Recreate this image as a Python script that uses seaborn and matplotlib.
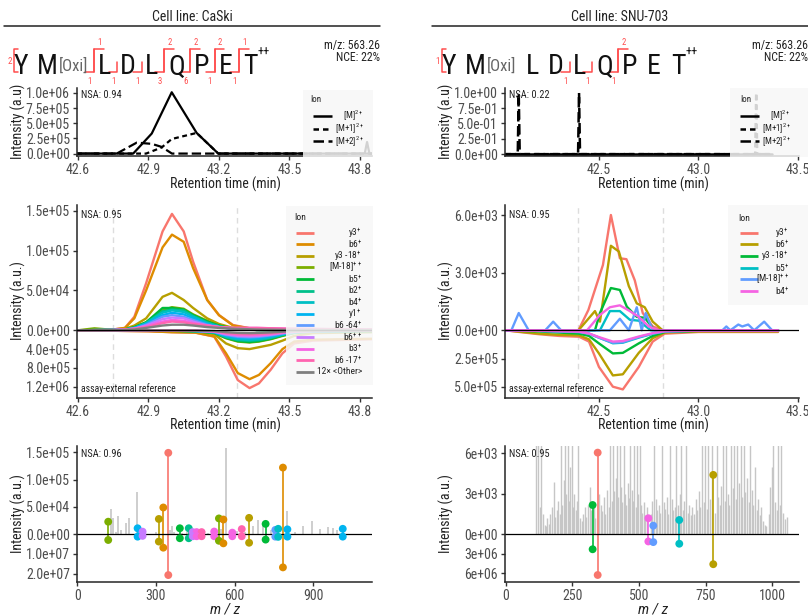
import matplotlib
matplotlib.use("Agg")
import matplotlib.pyplot as plt
import numpy as np
import pandas as pd
import seaborn as sns
from matplotlib import font_manager
from matplotlib.lines import Line2D
from matplotlib.patches import Rectangle

# ============================ DATA ============================
col_titles = ["Cell line: CaSki", "Cell line: SNU-703"]
precursor_text = ["m/z: 563.26", "NCE: 22%"]
residues = ["Y", "M", "L", "D", "L", "Q", "P", "E", "T"]
nsa_L = ["NSA: 0.94", "NSA: 0.95", "NSA: 0.96"]
nsa_R = ["NSA: 0.22", "NSA: 0.95", "NSA: 0.95"]

start_count = ["2", "1"]
sites_L = [(1, "1", "1"), (2, None, "1"), (3, None, "1"), (4, "2", "3"),
           (5, "2", "6"), (6, "2", "1"), (7, "1", "1")]
sites_R = [(3, None, "1"), (4, None, "1"), (5, "2", "1")]

# ---- precursor XIC, CaSki (intensity in 1e6) ----
xicL_M_rt = [42.596, 42.835, 42.914, 42.999, 43.105, 43.197, 43.82, 43.83, 43.84, 43.851]
xicL_M = [0, 0, 0.33, 1.01, 0.34, 0, 0, 0.19, 0, 0]
xicL_M1_rt = [42.596, 42.89, 42.956, 42.999, 43.105, 43.197, 43.851]
xicL_M1 = [0, 0, 0.10, 0.24, 0.34, 0, 0]
xicL_M2_rt = [42.596, 42.765, 42.85, 42.914, 42.956, 43.0, 43.851]
xicL_M2 = [0, 0, 0.18, 0.16, 0.11, 0, 0]
# ---- precursor XIC, SNU-703 (normalised) ----
xicR_M_rt = [42.03, 43.37]
xicR_M = [0, 0]
xicR_M1_rt = [42.03, 43.285, 43.29, 43.295, 43.37]
xicR_M1 = [0, 0, 1.0, 0, 0]
xicR_M2_rt = [42.03, 42.092, 42.097, 42.102, 42.395, 42.40, 42.405, 43.37]
xicR_M2 = [0, 0, 1.0, 0, 0, 1.0, 0, 0]

# ---- fragment XICs, CaSki (obs in 1e3, reference in 1e3) ----
ions_L = ["y3+", "b6+", "y3-18+", "M-18++", "b5+", "b2+", "b4+", "y1+",
          "b6-64+", "b6++", "b3+", "b6-17+", "other"]
labels_L = ["y3$^{+}$", "b6$^{+}$", "y3 -18$^{+}$", "[M-18]$^{++}$", "b5$^{+}$",
            "b2$^{+}$", "b4$^{+}$", "y1$^{+}$", "b6 -64$^{+}$", "b6$^{++}$",
            "b3$^{+}$", "b6 -17$^{+}$", "12× <Other>"]
rt_obs_L = [42.60, 42.67, 42.75, 42.80, 42.84, 42.89, 42.96, 43.00, 43.05,
            43.09, 43.15, 43.20, 43.26, 43.36, 43.50, 43.85]
obsL_y3 = [0, 0.5, 1, 3, 17, 59, 124, 146, 124, 86, 38, 19, 6.6, 1, 0.5, 0.5]
obsL_b6 = [0, 0.5, 1, 3, 15, 50, 104, 120, 111, 78, 38, 19, 6, 1, 0.5, 0.5]
obsL_y3_18 = [0, 0.3, 0.5, 2, 6, 15, 42, 47, 38, 28, 15, 8, 3, 0.5, 0.3, 0.3]
obsL_M_18 = [0, 2.5, 0.5, 1, 4, 10, 25, 29, 27, 20, 12, 6, 2, 0.5, 0.3, 0.3]
obsL_b5 = [0, 0.3, 0.5, 1, 4, 10, 28, 28, 26, 19, 11, 6, 2, 0.5, 0.3, 0.3]
obsL_b2 = [0, 0.3, 0.5, 1, 3, 9, 24, 26, 25, 18, 10, 5, 2, 0.5, 0.3, 0.3]
obsL_b4 = [0, 0.2, 0.5, 1, 3, 9, 22, 25, 23, 17, 9, 5, 2, 0.5, 0.3, 0.3]
obsL_y1 = [0, 0.2, 0.4, 1, 3, 8, 19, 22, 20, 15, 8, 4, 2, 0.5, 0.3, 0.3]
obsL_b6_64 = [0, 0.2, 0.4, 1, 2, 7, 17, 19, 17, 13, 7, 4, 2, 1, 0.5, 0.5]
obsL_b6pp = [0, 0.2, 0.3, 1, 2, 6, 14, 16, 15, 11, 6, 4, 2, 2, 1, 0.5]
obsL_b3 = [0, 0.2, 0.3, 1, 2, 5, 11, 13, 12, 9, 6, 4, 3, 3, 2, 1]
obsL_b6_17 = [0, 0.2, 0.3, 1, 2, 4, 9, 11, 10, 8, 6, 4, 3, 3, 2, 1]
obsL_other = [0, 0.1, 0.2, 0.5, 1, 3, 6, 7, 7, 6, 4, 3, 2, 1, 0.5, 0.3]

rt_ref_L = [42.60, 42.90, 43.00, 43.10, 43.18, 43.23, 43.28, 43.33, 43.37,
            43.42, 43.47, 43.52, 43.60, 43.85]
refL_y3 = [0, 20, 40, 50, 136, 560, 1060, 1230, 1130, 840, 490, 280, 220, 190]
refL_b6 = [0, 20, 40, 50, 130, 490, 910, 1040, 950, 700, 400, 240, 200, 180]
refL_y3_18 = [0, 10, 20, 30, 80, 280, 380, 400, 360, 310, 220, 120, 60, 40]
refL_M_18 = [0, 5, 10, 20, 60, 170, 240, 260, 240, 190, 120, 60, 30, 20]
refL_b5 = [0, 5, 10, 20, 55, 160, 230, 250, 230, 180, 110, 55, 25, 15]
refL_b2 = [0, 5, 10, 18, 50, 150, 210, 225, 210, 165, 100, 50, 25, 15]
refL_b4 = [0, 5, 8, 16, 45, 135, 190, 205, 190, 150, 90, 45, 20, 12]
refL_y1 = [0, 4, 8, 14, 40, 115, 165, 175, 165, 130, 80, 40, 20, 10]
refL_b6_64 = [0, 4, 7, 12, 35, 100, 140, 150, 140, 110, 70, 35, 15, 10]
refL_b6pp = [0, 3, 6, 10, 30, 85, 120, 130, 120, 95, 60, 30, 15, 8]
refL_b3 = [0, 3, 5, 8, 25, 70, 100, 105, 100, 80, 50, 25, 12, 8]
refL_b6_17 = [0, 2, 4, 7, 20, 55, 80, 85, 80, 65, 40, 20, 10, 6]
refL_other = [0, 2, 3, 5, 15, 40, 55, 60, 55, 45, 30, 15, 8, 5]

# ---- fragment XICs, SNU-703 (obs in 1e3, reference in 1e5) ----
ions_R = ["y3+", "b6+", "y3-18+", "b5+", "M-18++", "b4+"]
labels_R = ["y3$^{+}$", "b6$^{+}$", "y3 -18$^{+}$", "b5$^{+}$", "[M-18]$^{++}$", "b4$^{+}$"]
obsR_y3_rt = [42.03, 42.397, 42.447, 42.52, 42.56, 42.605, 42.638, 42.68, 42.72, 42.77, 42.82, 43.40]
obsR_y3 = [0, 0, 1.06, 3.4, 6.0, 3.75, 3.7, 2.6, 0.9, 0.2, 0, 0]
obsR_b6_rt = [42.03, 42.397, 42.48, 42.505, 42.56, 42.60, 42.65, 42.69, 42.73, 42.77, 42.82, 43.40]
obsR_b6 = [0, 0, 1.0, 0.45, 4.4, 4.1, 2.3, 1.4, 1.2, 0.45, 0, 0]
obsR_y3_18_rt = [42.03, 42.48, 42.505, 42.56, 42.605, 42.64, 42.69, 42.73, 42.78, 43.40]
obsR_y3_18 = [0, 0, 0.9, 2.2, 2.1, 1.23, 0.7, 0.65, 0, 0]
obsR_b5_rt = [42.03, 42.505, 42.555, 42.605, 42.655, 42.70, 42.76, 43.40]
obsR_b5 = [0, 0, 1.0, 1.0, 0.55, 0.5, 0, 0]
obsR_M_18_rt = [42.03, 42.06, 42.097, 42.147, 42.23, 42.27, 42.31, 42.555, 42.605, 42.65,
                42.69, 42.715, 42.735, 42.77, 43.12, 43.14, 43.16, 43.20, 43.22, 43.25,
                43.28, 43.33, 43.37, 43.40]
obsR_M_18 = [0, 0, 0.9, 0, 0, 0.45, 0, 0, 0.6, 0, 1.2, 0, 0.9, 0, 0, 0.2, 0, 0.3, 0.2,
             0.3, 0, 0.45, 0, 0]
obsR_b4_rt = [42.03, 42.44, 42.505, 42.555, 42.605, 42.655, 42.70, 42.75, 42.80, 43.40]
obsR_b4 = [0, 0, 0.8, 1.2, 1.3, 1.0, 0.7, 0.2, 0, 0]

rt_ref_R = [42.03, 42.10, 42.20, 42.30, 42.40, 42.45, 42.50, 42.57, 42.62, 42.70,
            42.77, 42.83, 43.00, 43.40]
refR_y3 = [0, 0.15, 0.35, 0.5, 0.57, 1.0, 3.25, 5.0, 5.24, 3.25, 1.0, 0.3, 0.15, 0.15]
refR_b6 = [0, 0.12, 0.3, 0.4, 0.45, 0.8, 2.05, 4.0, 3.9, 2.0, 0.7, 0.2, 0.1, 0.1]
refR_y3_18 = [0, 0.05, 0.1, 0.2, 0.3, 0.5, 1.16, 2.05, 2.0, 1.16, 0.5, 0.15, 0.05, 0.05]
refR_b5 = [0, 0.03, 0.05, 0.1, 0.15, 0.3, 0.65, 1.15, 1.1, 0.65, 0.3, 0.1, 0.03, 0.03]
refR_M_18 = [0, 0.03, 0.05, 0.1, 0.15, 0.3, 0.65, 1.1, 1.05, 0.6, 0.3, 0.1, 0.03, 0.03]
refR_b4 = [0, 0.02, 0.04, 0.08, 0.12, 0.28, 0.6, 1.0, 0.95, 0.55, 0.25, 0.08, 0.02, 0.02]

peak_bounds_L = [42.75, 43.275]
peak_bounds_R = [42.397, 42.82]

# ---- spectra: matched fragments (m/z, observed, reference, ion) ----
specL_mz = [118, 230, 249, 311, 328, 347, 391, 425, 440, 455, 474, 522, 540, 557,
            591, 627, 655, 718, 755, 766, 784, 801, 1012]
specL_obs = [2.3e4, 1.1e4, 4.8e3, 2.8e4, 4.9e4, 1.49e5, 1.1e4, 1.1e4, 4e3, 4e3, 4e3, 5e3,
             2.9e4, 2.7e4, 3e3, 9.5e3, 3.0e4, 1.9e4, 8e3, 1.0e4, 1.22e5, 9e3, 1.0e4]
specL_ref = [2.9e6, 1.2e6, 0.8e6, 3.7e6, 6.8e6, 2.07e7, 2.0e6, 2.0e6, 1.0e6, 1.0e6, 1.0e6,
             1.0e6, 3.3e6, 4.6e6, 1.0e6, 1.0e6, 4.3e6, 2.7e6, 1.2e6, 1.3e6, 1.68e7, 1.2e6, 1.2e6]
specL_ion = ["M-18++", "y1+", "b6++", "y3-18+", "b6+", "y3+", "b5+", "b2+", "b6++", "b3+",
             "b6-17+", "b3+", "M-18++", "b6+", "b3+", "b6-17+", "y3-18+", "b5+", "b6-64+",
             "b4+", "b6+", "y1+", "y1+"]
greyL_mz = [128, 137, 147, 156, 165, 184, 198, 226, 240, 260, 300, 352, 360, 370, 400, 420,
            460, 480, 500, 530, 548, 567, 590, 610, 640, 671, 690, 709, 740, 801, 830, 862,
            894, 925, 957, 976, 990]
greyL_int = [4.6e4, 3.0e4, 5e3, 3.3e4, 8e3, 2e4, 3e4, 7.8e4, 5e3, 6e3, 4e3, 8e3, 1.5e4, 5e3,
             3e3, 4e3, 3e3, 4e3, 3e3, 6e3, 1e4, 1.58e5, 8e3, 6e3, 5e3, 1.5e4, 2.7e4, 1.8e4,
             8e3, 4.3e4, 5e3, 1.5e4, 2.5e4, 9e3, 1.3e4, 1.2e4, 8e3]

specR_mz = [326, 345, 535, 553.5, 651, 778.5]
specR_obs = [2.17e3, 6.05e3, 1.19e3, 0.64e3, 1.06e3, 4.4e3]
specR_ref = [2.3e6, 6.26e6, 1.1e6, 1.2e6, 1.45e6, 4.6e6]
specR_ion = ["y3-18+", "y3+", "b4+", "M-18++", "b5+", "b6+"]
# unmatched peaks of the observed SNU-703 spectrum (intensity in 1e3; 7 = off scale)
greyR_mz = [115, 121, 127, 133, 139, 146, 150, 156, 162, 168, 174, 180, 186, 192, 198, 204,
            208, 213, 218, 223, 228, 233, 238, 243, 248, 253, 258, 263, 268, 273, 279, 285,
            291, 297, 303, 309, 315, 321, 330, 336, 350, 356, 362, 368, 374, 380, 386, 392,
            397, 402, 407, 412, 417, 422, 427, 432, 437, 442, 447, 452, 457, 462, 467, 472,
            477, 482, 487, 492, 497, 502, 507, 512, 518, 524, 530, 545, 550, 558, 563, 568,
            574, 580, 586, 592, 598, 604, 610, 616, 622, 628, 634, 640, 646, 652, 658, 664,
            670, 676, 682, 688, 694, 700, 706, 712, 718, 724, 730, 736, 742, 748, 754, 760,
            766, 772, 785, 791, 797, 803, 809, 815, 821, 827, 833, 839, 845, 851, 857, 863,
            869, 875, 881, 887, 893, 899, 905, 911, 917, 923, 929, 935, 941, 947, 953, 959,
            965, 971, 978, 986, 992, 998, 1004, 1010, 1016, 1022, 1028, 1034, 1040, 1046, 1055]
greyR_int = [7, 7, 2, 7, 1.5, 0.7, 0.6, 1.2, 0.8, 1.5, 2.0, 3.9, 1.3, 1.8, 2.5, 1.5,
             7, 2.2, 4, 7, 3, 7, 2.5, 5, 7, 2, 3, 1.8, 2.5, 7, 1.2, 1.0,
             1.5, 2.0, 1.3, 2.2, 3.5, 1.8, 2.4, 1.2, 3.0, 2.2, 1.7, 2.8, 1.5, 3.3, 2.0, 7,
             2.5, 7, 3.2, 4.2, 7, 2.8, 7, 3.5, 2.4, 7, 3.0, 2.2, 3.8, 2.7, 7, 3.3,
             2.5, 7, 2.0, 7, 3.0, 7, 2.2, 1.6, 2.4, 1.4, 2.0, 1.5, 2.5, 7, 2.6, 1.8,
             2.2, 1.6, 7, 2.4, 1.9, 2.8, 1.5, 7, 2.6, 1.8, 2.0, 7, 2.2, 3.0, 7, 1.8,
             2.5, 7, 1.6, 2.2, 1.4, 2.0, 1.5, 2.6, 1.8, 3.2, 2.0, 7, 2.4, 7, 1.9, 7,
             2.6, 7, 1.6, 7, 2.8, 2.2, 3.6, 7, 2.5, 7, 3.0, 2.2, 7, 3.4, 7, 2.6,
             7, 3.8, 7, 2.8, 7, 3.1, 4.2, 2.4, 7, 3.3, 2.2, 5.0, 1.8, 2.6, 1.4, 2.0,
             1.0, 0.7, 0.6, 1.5, 3.5, 5.0, 7, 2.4, 1.8, 7, 2.2, 7, 1.6, 1.1, 1.3]

tick_top_L = ["0.0e+00", "2.5e+05", "5.0e+05", "7.5e+05", "1.0e+06"]
tick_top_R = ["0.0e+00", "2.5e-01", "5.0e-01", "7.5e-01", "1.0e+00"]
tick_mid_L_up = ["0.0e+00", "5.0e+04", "1.0e+05", "1.5e+05"]
tick_mid_L_dn = ["4.0e+05", "8.0e+05", "1.2e+06"]
tick_mid_R_up = ["0.0e+00", "3.0e+03", "6.0e+03"]
tick_mid_R_dn = ["2.5e+05", "5.0e+05"]
tick_bot_L_up = ["0.0e+00", "5.0e+04", "1.0e+05", "1.5e+05"]
tick_bot_L_dn = ["1.0e+07", "2.0e+07"]
tick_bot_R_up = ["0e+00", "3e+03", "6e+03"]
tick_bot_R_dn = ["3e+06", "6e+06"]

# ============================ STYLE ============================
sns.set_style("ticks")
ttf = font_manager.fontManager.ttflist
narrow = [f.name for f in ttf if ("Condensed" in f.name or "Narrow" in f.name)]
dv_cond = [f for f in ttf if f.name == "DejaVu Sans" and f.stretch == "condensed"]
STRETCH = "normal"
if any("Roboto Condensed" == n for n in narrow):
    NARROW = "Roboto Condensed"
elif narrow:
    NARROW = narrow[0]
elif dv_cond:
    NARROW = "DejaVu Sans"
    STRETCH = "condensed"
else:
    NARROW = "Roboto"
plt.rcParams["font.family"] = [NARROW, "DejaVu Sans"]
plt.rcParams["font.stretch"] = STRETCH
plt.rcParams["mathtext.default"] = "regular"
plt.rcParams["axes.linewidth"] = 1.1
SANS = NARROW

hue = ["#F8766D", "#DE8C00", "#B79F00", "#7CAE00", "#00BA38", "#00C08B", "#00BFC4",
       "#00B4F0", "#619CFF", "#C77CFF", "#F564E3", "#FF64B0"]
pal_L = dict(zip(ions_L, hue + ["#7f7f7f"]))
pal_R = dict(zip(ions_R, ["#F8766D", "#B79F00", "#00BA38", "#00BFC4", "#619CFF", "#F564E3"]))
RED = "#ff4d4d"
TICKC = "#4d4d4d"

W, H = 808, 616
fig = plt.figure(figsize=(W / 100, H / 100), dpi=100)
OFF = 428


def fx(x):
    return x / W


def fy(y):
    return 1 - y / H


def add_ax(x0, x1, y0, y1):
    return fig.add_axes([fx(x0), fy(y1), (x1 - x0) / W, (y1 - y0) / H])


def style_ax(ax):
    sns.despine(ax=ax)
    ax.tick_params(axis="both", labelsize=10, colors="#333333", labelcolor=TICKC,
                   length=3, width=1, pad=2)
    ax.set_xlabel("")
    ax.set_ylabel("")
    lg = ax.get_legend()
    if lg is not None:
        lg.remove()


def ftext(x, y, s, **kw):
    fig.text(fx(x), fy(y), s, **kw)


def fline(xs, ys, **kw):
    fig.add_artist(Line2D([fx(v) for v in xs], [fy(v) for v in ys], **kw))


def legend_box(x0, x1, y0, y1, title_xy, items, line_x, label_x, ys, lw, fs=7):
    fig.add_artist(Rectangle((fx(x0), fy(y1)), (x1 - x0) / W, (y1 - y0) / H,
                             transform=fig.transFigure, facecolor="#f7f7f7",
                             edgecolor="none", alpha=0.85, zorder=5))
    ftext(title_xy[0], title_xy[1], "Ion", fontsize=fs, ha="left", va="center",
          zorder=6, color="#222222")
    for (lab, col, ls), yy in zip(items, ys):
        fig.add_artist(Line2D([fx(line_x[0]), fx(line_x[1])], [fy(yy), fy(yy)],
                              color=col, lw=lw, linestyle=ls, zorder=6,
                              solid_capstyle="butt"))
        ftext(label_x, yy, lab, fontsize=fs, ha="right", va="center", zorder=6,
              color="#222222")


def nsa(ax, s):
    ax.text(0.012, 0.975, s, transform=ax.transAxes, ha="left", va="top",
            fontsize=7.5, color="#222222", zorder=4)


# ============================ HEADER ============================
for c in range(2):
    o = OFF * c
    ftext(192 + o, 17, col_titles[c], fontsize=10, ha="center", va="center", color="#222222")
    fline([4 + o, 380 + o], [26, 26], color="#222222", lw=1.1)
    ftext(380 + o, 45, precursor_text[0], fontsize=8.5, ha="right", va="center", color="#222222")
    ftext(380 + o, 57.5, precursor_text[1], fontsize=8.5, ha="right", va="center", color="#222222")
    letters_x = [20.7, 47.5, 105, 128.3, 151.7, 176.7, 201.7, 225.7, 250]
    for ch, xx in zip(residues, letters_x):
        ftext(xx + o, 74.5, ch, fontsize=20, ha="center", va="baseline",
              family=SANS, color="#111111")
    ftext(58.5 + o, 70.5, "[Oxi]", fontsize=12, ha="left", va="baseline", family=SANS,
          color="#666666")
    ftext(257.5 + o, 52, "++", fontsize=9, ha="left", va="center", family=SANS, color="#111111")
    fline([17.5 + o, 13.5 + o, 13.5 + o, 17.5 + o], [49, 49, 72.3, 72.3], color=RED, lw=1.1)
    ftext(9.5 + o, 61, start_count[c], fontsize=6.5, ha="center", va="center", color=RED)
    site_x = [0, 94.3, 117.5, 142, 164, 190, 214.5, 239]
    for k, top, bot in (sites_L if c == 0 else sites_R):
        xv = site_x[k] + o
        if top is not None:
            fline([xv, xv, xv + 9.5], [72.3 if bot else 61, 49, 49], color=RED, lw=1.1)
            ftext(xv + 5.5, 42.5, top, fontsize=6.3, ha="center", va="center", color=RED)
        if bot is not None:
            fline([xv - 9, xv, xv], [72.3, 72.3, 49 if top else 62], color=RED, lw=1.1)
            ftext(xv - 4.5, 81.5, bot, fontsize=6.3, ha="center", va="center", color=RED)

# ============================ PRECURSOR XIC ============================
dash_map = {"[M]": "", "[M+1]": (2.2, 1.6), "[M+2]": (4.2, 1.8)}
axA = add_ax(77, 372, 88, 156)
dfA = pd.concat([
    pd.DataFrame({"rt": xicL_M_rt, "y": np.array(xicL_M) * 1e6, "iso": "[M]"}),
    pd.DataFrame({"rt": xicL_M1_rt, "y": np.array(xicL_M1) * 1e6, "iso": "[M+1]"}),
    pd.DataFrame({"rt": xicL_M2_rt, "y": np.array(xicL_M2) * 1e6, "iso": "[M+2]"}),
])
sns.lineplot(data=dfA, x="rt", y="y", style="iso", dashes=dash_map, color="black",
             lw=1.6, estimator=None, sort=False, ax=axA)
axA.set_xlim(42.596, 43.851)
axA.set_ylim(-0.04e6, 1.08e6)
axA.set_xticks([42.6, 42.9, 43.2, 43.5, 43.8])
axA.set_xticklabels(["42.6", "42.9", "43.2", "43.5", "43.8"])
axA.set_yticks([0, 2.5e5, 5e5, 7.5e5, 1e6])
axA.set_yticklabels(tick_top_L)
style_ax(axA)
nsa(axA, nsa_L[0])

axB = add_ax(505, 799, 88, 156)
dfB = pd.concat([
    pd.DataFrame({"rt": xicR_M_rt, "y": xicR_M, "iso": "[M]"}),
    pd.DataFrame({"rt": xicR_M1_rt, "y": xicR_M1, "iso": "[M+1]"}),
    pd.DataFrame({"rt": xicR_M2_rt, "y": xicR_M2, "iso": "[M+2]"}),
])
sns.lineplot(data=dfB, x="rt", y="y", style="iso", dashes=dash_map, color="black",
             lw=1.8, estimator=None, sort=False, ax=axB)
axB.set_xlim(42.028, 43.505)
axB.set_ylim(-0.03, 1.078)
axB.set_xticks([42.5, 43.0, 43.5])
axB.set_xticklabels(["42.5", "43.0", "43.5"])
axB.set_yticks([0, 0.25, 0.5, 0.75, 1.0])
axB.set_yticklabels(tick_top_R)
style_ax(axB)
nsa(axB, nsa_R[0])

for c in range(2):
    o = OFF * c
    ftext(225 + o, 184, "Retention time (min)", fontsize=10, ha="center", va="center",
          color="#222222")
    ftext(18 + o, 121, "Intensity (a.u)", fontsize=10, ha="center", va="center",
          rotation=90, color="#222222")
    ftext(18 + o, 301, "Intensity (a.u.)", fontsize=10, ha="center", va="center",
          rotation=90, color="#222222")
    ftext(225 + o, 425, "Retention time (min)", fontsize=10, ha="center", va="center",
          color="#222222")
    ftext(18 + o, 514, "Intensity (a.u.)", fontsize=10, ha="center", va="center",
          rotation=90, color="#222222")
    ftext(225 + o, 609, "m / z", fontsize=11, ha="center", va="center", style="italic",
          color="#222222")

iso_items = [("[M]$^{2+}$", "black", "-"), ("[M+1]$^{2+}$", "black", (0, (2.2, 1.6))),
             ("[M+2]$^{2+}$", "black", (0, (4.2, 1.8)))]
legend_box(303, 373, 90, 157, (310.5, 100), iso_items, (312.5, 331.5), 364,
           [116, 128.5, 141.5], 1.8, fs=6.5)
legend_box(730, 808, 88, 157, (740, 100), iso_items, (740, 759), 791,
           [116, 128.5, 141.5], 1.8, fs=6.5)

# ============================ FRAGMENT XIC ============================
K_mid_L = 0.0589
obsL = [obsL_y3, obsL_b6, obsL_y3_18, obsL_M_18, obsL_b5, obsL_b2, obsL_b4, obsL_y1,
        obsL_b6_64, obsL_b6pp, obsL_b3, obsL_b6_17, obsL_other]
refL = [refL_y3, refL_b6, refL_y3_18, refL_M_18, refL_b5, refL_b2, refL_b4, refL_y1,
        refL_b6_64, refL_b6pp, refL_b3, refL_b6_17, refL_other]
rows = []
for ion, ob, rf in zip(ions_L, obsL, refL):
    rows.append(pd.DataFrame({"rt": rt_obs_L, "y": np.array(ob) * 1e3, "ion": ion, "part": "obs"}))
    rows.append(pd.DataFrame({"rt": rt_ref_L, "y": -np.array(rf) * 1e3 * K_mid_L, "ion": ion,
                              "part": "ref"}))
dfC = pd.concat(rows)
axC = add_ax(77, 372, 205, 398)
for b in peak_bounds_L:
    axC.axvline(b, color="#dddddd", lw=1, ls=(0, (4, 3)), zorder=0)
sns.lineplot(data=dfC, x="rt", y="y", hue="ion", units="part", estimator=None,
             palette=pal_L, hue_order=ions_L, lw=1.7, sort=False, ax=axC)
axC.axhline(0, color="black", lw=0.9, zorder=3)
axC.set_xlim(42.596, 43.851)
axC.set_ylim(-84900, 157150)
axC.set_xticks([42.6, 42.9, 43.2, 43.5, 43.8])
axC.set_xticklabels(["42.6", "42.9", "43.2", "43.5", "43.8"])
axC.set_yticks([0, 5e4, 1e5, 1.5e5] + [-v * K_mid_L for v in [4e5, 8e5, 1.2e6]])
axC.set_yticklabels(tick_mid_L_up + tick_mid_L_dn)
style_ax(axC)
nsa(axC, nsa_L[1])
axC.text(0.012, 0.02, "assay-external reference", transform=axC.transAxes, fontsize=7,
         ha="left", va="bottom", color="#222222")

K_mid_R = 0.00587
obsR = [(obsR_y3_rt, obsR_y3), (obsR_b6_rt, obsR_b6), (obsR_y3_18_rt, obsR_y3_18),
        (obsR_b5_rt, obsR_b5), (obsR_M_18_rt, obsR_M_18), (obsR_b4_rt, obsR_b4)]
refR = [refR_y3, refR_b6, refR_y3_18, refR_b5, refR_M_18, refR_b4]
rows = []
for ion, (rt, ob), rf in zip(ions_R, obsR, refR):
    rows.append(pd.DataFrame({"rt": rt, "y": np.array(ob) * 1e3, "ion": ion, "part": "obs"}))
    rows.append(pd.DataFrame({"rt": rt_ref_R, "y": -np.array(rf) * 1e5 * K_mid_R, "ion": ion,
                              "part": "ref"}))
dfD = pd.concat(rows)
axD = add_ax(505, 799, 205, 398)
for b in peak_bounds_R:
    axD.axvline(b, color="#dddddd", lw=1, ls=(0, (4, 3)), zorder=0)
sns.lineplot(data=dfD, x="rt", y="y", hue="ion", units="part", estimator=None,
             palette=pal_R, hue_order=ions_R, lw=1.7, sort=False, ax=axD)
axD.axhline(0, color="black", lw=0.9, zorder=3)
axD.set_xlim(42.028, 43.505)
axD.set_ylim(-3523, 6521)
axD.set_xticks([42.5, 43.0, 43.5])
axD.set_xticklabels(["42.5", "43.0", "43.5"])
axD.set_yticks([0, 3e3, 6e3] + [-v * K_mid_R for v in [2.5e5, 5e5]])
axD.set_yticklabels(tick_mid_R_up + tick_mid_R_dn)
style_ax(axD)
nsa(axD, nsa_R[1])
axD.text(0.012, 0.02, "assay-external reference", transform=axD.transAxes, fontsize=7,
         ha="left", va="bottom", color="#222222")

ysL = [232.7 + 11.58 * i for i in range(13)]
legend_box(286, 373, 206, 385, (294, 217.5),
           [(l, pal_L[i], "-") for l, i in zip(labels_L, ions_L)], (296, 314), 362,
           ysL, 2.0, fs=6.8)
ysR = [232.7 + 11.7 * i for i in range(6)]
legend_box(728, 808, 205, 305, (738.5, 218.5),
           [(l, pal_R[i], "-") for l, i in zip(labels_R, ions_R)], (739.5, 757.5), 789,
           ysR, 2.0, fs=6.8)


# ============================ SPECTRA ============================
def spectrum(ax, gmz, gint, mz, obs, ref, ions, pal, K, glw):
    dg = pd.DataFrame({"mz": gmz, "i": gint})
    ax.vlines(dg["mz"], 0, dg["i"], color="#c6c6c6", lw=glw, zorder=1)
    d = pd.DataFrame({"mz": mz, "obs": obs, "ref": -np.array(ref) * K, "ion": ions})
    for _, r in d.iterrows():
        ax.plot([r.mz, r.mz], [r.obs, r.ref], color=pal[r.ion], lw=1.2, zorder=2)
    long = pd.concat([d[["mz", "ion"]].assign(y=d["obs"]), d[["mz", "ion"]].assign(y=d["ref"])])
    sns.scatterplot(data=long, x="mz", y="y", hue="ion", palette=pal, s=32,
                    edgecolor="none", zorder=3, legend=False, ax=ax)
    ax.axhline(0, color="black", lw=0.9, zorder=2.5)


K_bot_L = 0.003604
axE = add_ax(77, 372, 446, 582)
spectrum(axE, greyL_mz, greyL_int, specL_mz, specL_obs, specL_ref, specL_ion, pal_L,
         K_bot_L, 1.2)
axE.set_xlim(-1, 1123.5)
axE.set_ylim(-87300, 161500)
axE.set_xticks([0, 300, 600, 900])
axE.set_xticklabels(["0", "300", "600", "900"])
axE.set_yticks([0, 5e4, 1e5, 1.5e5] + [-v * K_bot_L for v in [1e7, 2e7]])
axE.set_yticklabels(tick_bot_L_up + tick_bot_L_dn)
style_ax(axE)
nsa(axE, nsa_L[2])

K_bot_R = 0.0004815
axF = add_ax(505, 799, 446, 582)
spectrum(axF, greyR_mz, np.array(greyR_int) * 1e3, specR_mz, specR_obs, specR_ref,
         specR_ion, pal_R, K_bot_R, 1.0)
axF.set_xlim(-2.6, 1100)
axF.set_ylim(-3533, 6541)
axF.set_xticks([0, 250, 500, 750, 1000])
axF.set_xticklabels(["0", "250", "500", "750", "1000"])
axF.set_yticks([0, 3e3, 6e3] + [-v * K_bot_R for v in [3e6, 6e6]])
axF.set_yticklabels(tick_bot_R_up + tick_bot_R_dn)
style_ax(axF)
nsa(axF, nsa_R[2])

fig.savefig("out.png", dpi=100)
